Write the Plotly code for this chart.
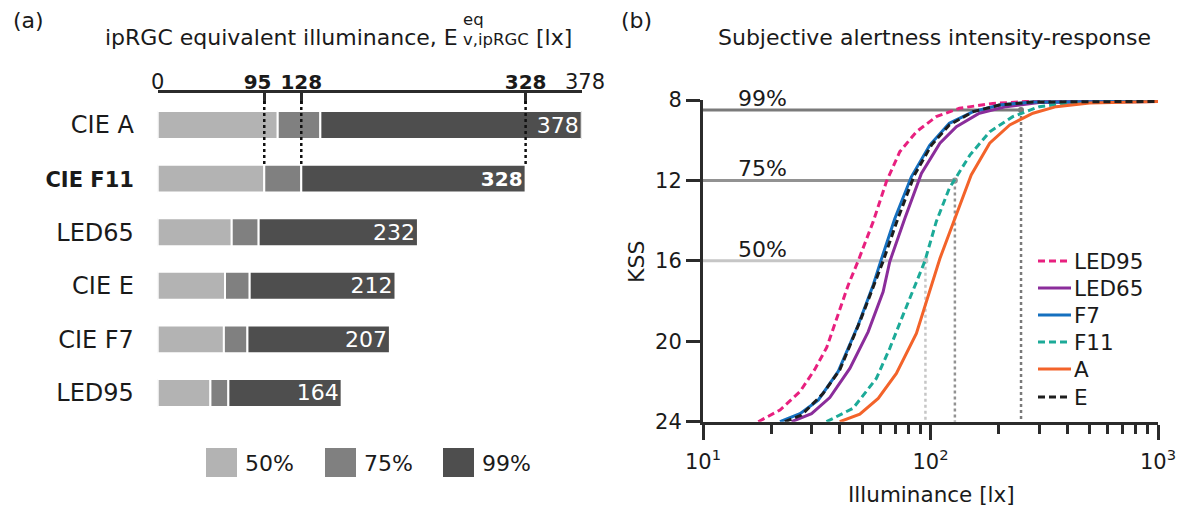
import plotly.graph_objects as go

W, H = 1182, 510
def px(x):
    return x / W
def py(y):
    return 1 - y / H

FONT = "DejaVu Sans"
TXT = "#1a1a1a"
AX = "#2b2b2b"
NB = "\u00a0"

# ---------------- panel (a) data ----------------
sources = ["CIE A", "CIE F11", "LED65", "CIE E", "CIE F7", "LED95"]
source_ticktext = ["CIE A", "<span style='font-size:21px'><b>CIE F11</b></span>", "LED65", "CIE E", "CIE F7", "LED95"]
lux50 = [107, 95, 66, 60, 59, 47]
lux75 = [145, 128, 90, 82, 80, 63]
lux99 = [378, 328, 232, 212, 207, 164]
bar_text = ["378", "<span style='font-size:20px'><b>328</b></span>", "232", "212", "207", "164"]
top_ticks = [0, 95, 128, 328, 378]
top_ticktext = ["0", "<span style='font-size:20px'><b>95</b></span>" + NB + NB,
                "<span style='font-size:20px'><b>128</b></span>",
                "<span style='font-size:20px'><b>328</b></span>", NB + "378"]
level_names = ["50%", "75%", "99%"]
bar_colors = ["#b3b3b3", "#808080", "#4e4e4e"]

# ---------------- panel (b) data ----------------
led95_x = [17.5, 21.8, 26.7, 31, 35, 39.3, 43.5, 48.1, 56, 64, 73.3, 86.7, 106, 134, 188, 263, 1000]
led95_y = [24, 23.42, 22.5, 21.4, 20.3, 18.6, 17.2, 16.0, 14.05, 12.06, 10.57, 9.58, 8.83, 8.41, 8.17, 8.08, 8.07]
led65_x = [24.5, 30, 36.1, 44.2, 53.2, 61.9, 66.2, 77.1, 91.2, 110, 130, 164, 215, 300, 1000]
led65_y = [24, 23.6, 22.8, 21.35, 19.53, 17.54, 16.04, 13.89, 11.65, 10.15, 9.33, 8.66, 8.33, 8.12, 8.07]
f7_x = [21.8, 26.7, 32.1, 39.3, 48.1, 56, 60.5, 69.7, 82.4, 99.3, 121, 154, 201, 282, 1000]
f7_y = [24, 23.6, 22.93, 21.5, 19.19, 17.2, 16.0, 13.89, 11.82, 10.24, 9.16, 8.58, 8.25, 8.10, 8.07]
f11_x = [34.9, 45.7, 57.8, 66.2, 75.7, 85.3, 94.3, 106, 121, 149, 182, 230, 301, 420, 1000]
f11_y = [24, 23.33, 21.85, 20.35, 18.70, 17.2, 16.04, 14.05, 12.39, 10.74, 9.58, 8.83, 8.33, 8.13, 8.07]
a_x = [39.9, 48.9, 58.9, 70.8, 86.7, 95.9, 110, 128, 151, 182, 223, 282, 357, 500, 1000]
a_y = [24, 23.63, 22.84, 21.6, 19.61, 18.03, 15.88, 13.89, 11.73, 10.15, 9.24, 8.66, 8.33, 8.15, 8.08]
e_x = [22.9, 27.1, 33.7, 39.9, 48.9, 57.8, 61.8, 71.9, 85, 101, 121, 154, 201, 282, 1000]
e_y = [24, 23.67, 22.6, 21.43, 19.03, 16.87, 16.04, 13.89, 11.73, 10.24, 9.24, 8.58, 8.25, 8.10, 8.07]

curve_names = ["LED95", "LED65", "F7", "F11", "A", "E"]
curve_colors = ["#e8207f", "#8b2d9b", "#1570bf", "#1caa98", "#f3632a", "#1e1e1e"]
curve_dash = ["7px,4px", "solid", "solid", "7px,4px", "solid", "7px,4px"]
curve_xs = [led95_x, led65_x, f7_x, f11_x, a_x, e_x]
curve_ys = [led95_y, led65_y, f7_y, f11_y, a_y, e_y]

pct_labels = ["50%", "75%", "99%"]
pct_kss = [16, 12, 8.5]
pct_lux = [95, 128, 250]
pct_colors = ["#c6c6c6", "#929292", "#7a7a7a"]
kss_min, kss_max = 8, 24
lux_min = 10

fig = go.Figure()

# bars
bases = [[0] * len(sources), lux50, lux75]
tops = [lux50, lux75, lux99]
for i, name in enumerate(level_names):
    fig.add_trace(go.Bar(
        y=sources, x=[t - b for t, b in zip(tops[i], bases[i])], base=bases[i],
        orientation="h", marker=dict(color=bar_colors[i], line=dict(color="white", width=2)),
        width=0.52, showlegend=False, xaxis="x", yaxis="y",
        text=bar_text if i == 2 else None,
        textposition="inside" if i == 2 else "none",
        insidetextanchor="end", textangle=0, constraintext="none",
        textfont=dict(color="white", size=22, family=FONT),
        hoverinfo="skip",
    ))
# invisible helper so the top (bracket) axis is drawn
fig.add_trace(go.Scatter(x=[0], y=[sources[0]], mode="markers", marker=dict(opacity=0),
                         xaxis="x2", yaxis="y", showlegend=False, hoverinfo="skip"))

# reference lines panel b
for lab, k, lx, c in zip(pct_labels, pct_kss, pct_lux, pct_colors):
    fig.add_trace(go.Scatter(x=[lux_min, lx], y=[k, k], mode="lines", line=dict(color=c, width=3),
                             showlegend=False, xaxis="x3", yaxis="y3", hoverinfo="skip"))
    fig.add_trace(go.Scatter(x=[lx, lx], y=[k, kss_max], mode="lines", line=dict(color=c, width=2.5, dash="dot"),
                             showlegend=False, xaxis="x3", yaxis="y3", hoverinfo="skip"))
    fig.add_trace(go.Scatter(x=[lx], y=[k], mode="markers", marker=dict(color=c, size=6),
                             showlegend=False, xaxis="x3", yaxis="y3", hoverinfo="skip"))

for n, c, d, xs, ys in zip(curve_names, curve_colors, curve_dash, curve_xs, curve_ys):
    fig.add_trace(go.Scatter(x=xs, y=ys, mode="lines", name=n,
                             line=dict(color=c, width=3, dash=d),
                             xaxis="x3", yaxis="y3", showlegend=False))

shapes = []
# dashed guide lines from top axis to CIE F11 bar
for v in [lux50[1], lux75[1], lux99[1]]:
    shapes.append(dict(type="line", xref="x", yref="paper", x0=v, x1=v, y0=py(101), y1=py(165),
                       line=dict(color="#111", width=2.5, dash="dot")))
# legend squares panel a
sq_x = [206, 325, 443]
for xx, c in zip(sq_x, bar_colors):
    shapes.append(dict(type="rect", xref="paper", yref="paper", x0=px(xx), x1=px(xx + 31),
                       y0=py(477), y1=py(448), fillcolor=c, line=dict(width=0)))

annotations = []
def ann(text, x, y, size=22, xanchor="center", yanchor="middle", **kw):
    annotations.append(dict(text=text, x=x, y=y, xref="paper", yref="paper", showarrow=False,
                            xanchor=xanchor, yanchor=yanchor,
                            font=dict(family=FONT, size=size, color=TXT), **kw))

# legend panel b (line sample + label)
leg_y = [261, 288, 315, 342, 369, 397]
for n, c, d, yy in zip(curve_names, curve_colors, curve_dash, leg_y):
    shapes.append(dict(type="line", xref="paper", yref="paper", x0=px(1038), x1=px(1071),
                       y0=py(yy), y1=py(yy), line=dict(color=c, width=3, dash=d)))
    ann(n, px(1072), py(yy), size=21.5, xanchor="left")

ann("(a)", px(11), py(21), xanchor="left")
ann("(b)", px(619), py(21), xanchor="left")
ann("ipRGC equivalent illuminance, E", px(460), py(38), xanchor="right")
ann("eq", px(461), py(20), size=16.5, xanchor="left")
ann("v,ipRGC", px(461), py(40), size=16.5, xanchor="left")
ann("[lx]", px(534), py(38), xanchor="left")
ann("Subjective alertness intensity-response", px(935), py(38))
ann("KSS", px(636), py(262), textangle=-90)
ann("Illuminance [lx]", px(931), py(494), size=21.5)
for xx, lab in zip(sq_x, level_names):
    ann(lab, px(xx + 37), py(463), xanchor="left")
for lab, k in zip(pct_labels, pct_kss):
    annotations.append(dict(text=lab, x=1.146, y=k, xref="x3", yref="y3", showarrow=False,
                            xanchor="left", yanchor="bottom", yshift=-3,
                            font=dict(family=FONT, size=22, color=TXT)))

fig.update_layout(
    width=W, height=H, margin=dict(l=0, r=0, t=0, b=0, autoexpand=False),
    paper_bgcolor="white", plot_bgcolor="white",
    font=dict(family=FONT, color=TXT),
    barmode="overlay", showlegend=False,
    shapes=shapes, annotations=annotations,
    xaxis=dict(domain=[px(157.7), px(581.7)], range=[0, 378], showgrid=False, zeroline=False,
               showticklabels=False, showline=False, ticks="", automargin=False),
    xaxis2=dict(overlaying="x", anchor="free", position=py(91), side="top", range=[0, 378],
                tickvals=top_ticks, ticktext=top_ticktext, ticks="inside", ticklen=11, tickwidth=3,
                tickcolor=AX, showline=True, linewidth=3, linecolor=AX, showgrid=False, zeroline=False,
                automargin=False, tickangle=0, ticklabelstandoff=-7,
                tickfont=dict(family=FONT, size=21, color=TXT)),
    yaxis=dict(domain=[py(419.8), py(98.2)], type="category", categoryarray=sources,
               range=[5.5, -0.5], tickvals=sources, ticktext=source_ticktext,
               ticks="outside", ticklen=18, tickcolor="rgba(0,0,0,0)", showline=False,
               showgrid=False, zeroline=False, automargin=False,
               tickfont=dict(family=FONT, size=24, color=TXT)),
    xaxis3=dict(domain=[px(703), px(1158)], type="log", range=[1, 3], anchor="y3",
                tickvals=[10, 100, 1000], ticktext=["10<sup>1</sup>", "10<sup>2</sup>", "10<sup>3</sup>"],
                ticks="outside", ticklen=15, tickwidth=3, tickcolor=AX, ticklabelstandoff=4,
                tickangle=0,
                minor=dict(tickvals=[20, 30, 40, 50, 60, 70, 80, 90, 200, 300, 400, 500, 600, 700, 800, 900],
                           ticks="outside", ticklen=9, tickwidth=3, tickcolor=AX, showgrid=False),
                showline=True, linewidth=3, linecolor=AX, showgrid=False, zeroline=False,
                automargin=False, tickfont=dict(family=FONT, size=21, color=TXT)),
    yaxis3=dict(domain=[py(421.7), py(100)], range=[kss_max, kss_min], anchor="x3",
                tickvals=[8, 12, 16, 20, 24], ticks="outside", ticklen=14, tickwidth=3, tickcolor=AX,
                showline=True, linewidth=3, linecolor=AX, showgrid=False, zeroline=False,
                automargin=False, tickfont=dict(family=FONT, size=21, color=TXT)),
)

fig.write_html("out.html", config={"displayModeBar": False},
               post_script="document.body.style.margin='0px';document.body.style.overflow='hidden';")
